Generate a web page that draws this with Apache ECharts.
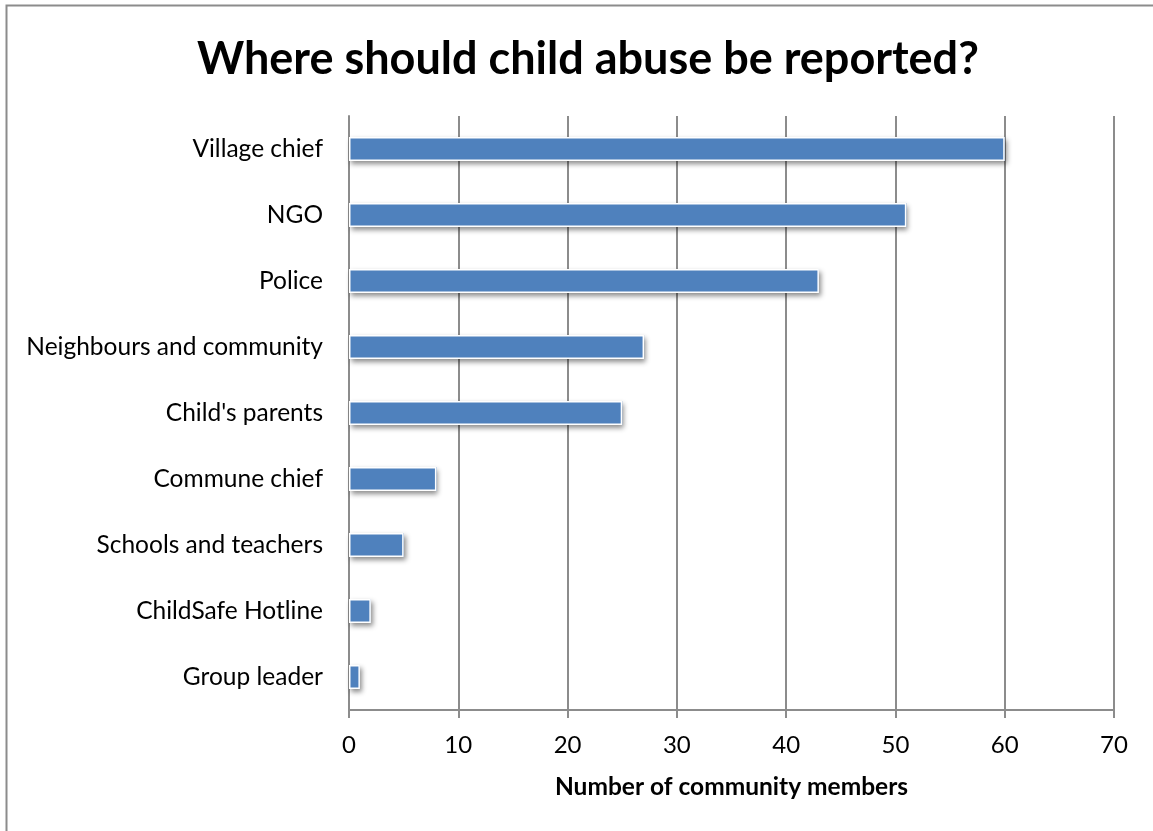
<!DOCTYPE html>
<html>
<head>
<meta charset="utf-8">
<script src="https://cdn.jsdelivr.net/npm/echarts@6/dist/echarts.min.js"></script>
<style>
  html, body { margin: 0; padding: 0; background: #fff; }
  #chart { width: 1153px; height: 831px; }
</style>
</head>
<body>
<div id="chart"></div>
<script>
// Places where community members said child abuse should be reported
const categories = [
  'Village chief',
  'NGO',
  'Police',
  'Neighbours and community',
  "Child's parents",
  'Commune chief',
  'Schools and teachers',
  'ChildSafe Hotline',
  'Group leader'
];
const counts = [60, 51, 43, 27, 25, 8, 5, 2, 1];
const xTicks = [0, 10, 20, 30, 40, 50, 60, 70];

const fontFamily = 'Lato, "Open Sans", "Liberation Sans", sans-serif';
const barColor = '#4f81bd';

const chart = echarts.init(document.getElementById('chart'), null, { renderer: 'canvas' });

chart.setOption({
  animation: false,
  backgroundColor: '#ffffff',
  title: {
    text: 'Where should child abuse be reported?',
    left: 192,
    top: 32,
    textStyle: {
      fontFamily: fontFamily,
      fontSize: 45,
      fontWeight: 'bold',
      color: '#000'
    }
  },
  graphic: [{
    type: 'rect',
    shape: { x: 6.5, y: 5.5, width: 1200, height: 900 },
    style: { fill: 'none', stroke: '#8c8c8c', lineWidth: 2 },
    silent: true
  }],
  grid: { left: 349, right: 39, top: 116, bottom: 121 },
  xAxis: {
    type: 'value',
    min: xTicks[0],
    max: xTicks[xTicks.length - 1],
    interval: 10,
    name: 'Number of community members',
    nameLocation: 'middle',
    nameGap: 65,
    nameTextStyle: {
      fontFamily: fontFamily,
      fontSize: 24.5,
      fontWeight: 'bold',
      color: '#000'
    },
    axisLine: { show: true, lineStyle: { color: '#8c8c8c', width: 2 } },
    axisTick: { show: true, length: 8, lineStyle: { color: '#8c8c8c', width: 2 } },
    axisLabel: {
      margin: 23,
      fontFamily: fontFamily,
      fontSize: 24,
      color: '#000'
    },
    splitLine: { show: true, lineStyle: { color: '#8c8c8c', width: 2 } }
  },
  yAxis: {
    type: 'category',
    data: categories,
    inverse: true,
    axisLine: { show: true, lineStyle: { color: '#8c8c8c', width: 2 } },
    axisTick: { show: false },
    axisLabel: {
      margin: 26,
      fontFamily: fontFamily,
      fontSize: 24.5,
      color: '#000'
    },
    splitLine: { show: false }
  },
  series: [
    {
      // soft drop shadow beneath each bar
      type: 'bar',
      data: counts,
      barWidth: 24,
      silent: true,
      itemStyle: {
        color: barColor,
        shadowColor: 'rgba(0,0,0,0.45)',
        shadowBlur: 5,
        shadowOffsetX: 2,
        shadowOffsetY: 3
      }
    },
    {
      // bar face with thin white outline
      type: 'bar',
      data: counts,
      barWidth: 24,
      barGap: '-100%',
      itemStyle: {
        color: barColor,
        borderColor: '#ffffff',
        borderWidth: 1.5
      }
    }
  ]
});
</script>
</body>
</html>
